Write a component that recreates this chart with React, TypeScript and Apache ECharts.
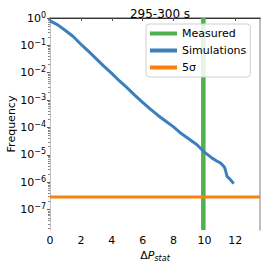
import React, { useEffect, useRef } from "react";
import * as echarts from "echarts";

const titleText = "295-300 s";
const xTicks = [0, 2, 4, 6, 8, 10, 12];
const yDecades = [-7, -6, -5, -4, -3, -2, -1, 0];
const xMax = 13.6;
const yMinFreq = 1.8e-8;
const yMaxFreq = 1;

const simX = [0, 0.5, 1, 1.5, 2, 2.5, 3, 3.5, 4, 4.5, 5, 5.5, 6, 6.5, 7, 7.5, 8, 8.5, 9, 9.5, 10, 10.5, 10.8, 11.05, 11.3, 11.36, 11.47, 11.6, 11.9];
const simFreq = [0.79, 0.56, 0.35, 0.21, 0.11, 0.06, 0.032, 0.017, 0.0095, 0.005, 0.0028, 0.0015, 8.3e-4, 4.7e-4, 2.75e-4, 1.7e-4, 1.05e-4, 6.0e-5, 3.8e-5, 2.4e-5, 1.26e-5, 7.6e-6, 6.0e-6, 5.0e-6, 3.5e-6, 2.8e-6, 1.6e-6, 1.4e-6, 8.9e-7];
const measuredX = 9.93;
const fiveSigma = 2.87e-7;

const FONT = "DejaVu Sans";

export default function App() {
  const ref = useRef<HTMLDivElement>(null);
  useEffect(() => {
    if (!ref.current) return;
    const chart = echarts.init(ref.current, undefined, { renderer: "svg" });
    const lg = (v: number) => Math.log10(v);
    const yMin = lg(yMinFreq);
    const yMax = lg(yMaxFreq);
    const minorVals: number[] = [];
    for (let n = -8; n <= 0; n++) {
      for (let k = 2; k <= 9; k++) {
        const v = n + Math.log10(k);
        if (v > yMin && v < yMax) minorVals.push(v);
      }
    }
    const supText = (n: number) => (n < 0 ? "\u2212" + Math.abs(n) : String(n));
    chart.setOption({
      animation: false,
      textStyle: { fontFamily: FONT },
      title: {
        text: titleText,
        left: 155,
        textAlign: "center",
        top: 3,
        textStyle: { fontFamily: FONT, fontSize: 12, fontWeight: "normal", color: "#000" },
      },
      legend: {
        orient: "vertical",
        left: 146,
        top: 24,
        padding: [3, 4, 3, 4],
        itemGap: 4,
        itemWidth: 27,
        itemHeight: 4,
        icon: "rect",
        borderColor: "#d0d0d0",
        borderWidth: 1,
        borderRadius: 3,
        backgroundColor: "rgba(255,255,255,0.85)",
        textStyle: { fontFamily: FONT, fontSize: 11, color: "#000", lineHeight: 13 },
        data: ["Measured", "Simulations", "5\u03c3"],
      },
      grid: { left: 50, top: 18, right: 6, bottom: 36, containLabel: false, outerBoundsMode: "none" },
      xAxis: [
        {
          type: "value",
          min: 0,
          max: xMax,
          interval: 2,
          position: "bottom",
          axisLine: { show: true, lineStyle: { color: "#a8a8a8", width: 2 } },
          axisTick: { show: true, length: 3, lineStyle: { color: "#555" }, customValues: xTicks },
          axisLabel: { fontFamily: FONT, fontSize: 11, color: "#000", margin: 5, customValues: xTicks },
          splitLine: { show: false },
          name: "{d|\u0394}{p|P}{s|stat}",
          nameLocation: "middle",
          nameGap: 18,
          nameMoveOverlap: false,
          nameTextStyle: {
            rich: {
              d: { fontFamily: FONT, fontSize: 11, color: "#000" },
              p: { fontFamily: FONT, fontSize: 11, color: "#000", fontStyle: "italic" },
              s: { fontFamily: FONT, fontSize: 8, color: "#000", fontStyle: "italic", padding: [6, 0, 0, 0] },
            },
          },
        },
        {
          type: "value",
          min: 0,
          max: xMax,
          position: "top",
          axisLine: { show: true, lineStyle: { color: "#333", width: 1 } },
          axisTick: { show: false },
          axisLabel: { show: false },
          splitLine: { show: false },
        },
      ],
      yAxis: [
        {
          type: "value",
          min: yMin,
          max: yMax,
          position: "left",
          axisLine: { show: true, lineStyle: { color: "#c0c0c0", width: 1 } },
          axisTick: { show: true, length: 3, lineStyle: { color: "#555" }, customValues: yDecades },
          axisLabel: {
            customValues: yDecades,
            margin: 4,
            formatter: (v: number) => `{b|10}{s|${supText(Math.round(v))}}`,
            rich: {
              b: { fontFamily: FONT, fontSize: 11, color: "#000", lineHeight: 14 },
              s: { fontFamily: FONT, fontSize: 8, color: "#000", verticalAlign: "top", lineHeight: 8 },
            },
          },
          splitLine: { show: false },
          name: "Frequency",
          nameLocation: "middle",
          nameGap: 33,
          nameMoveOverlap: false,
          nameTextStyle: { fontFamily: FONT, fontSize: 11, color: "#000" },
        },
        {
          type: "value",
          min: yMin,
          max: yMax,
          position: "left",
          axisLine: { show: false },
          axisTick: { show: true, length: 2, lineStyle: { color: "#888" }, customValues: minorVals },
          axisLabel: { show: false },
          splitLine: { show: false },
        },
        {
          type: "value",
          min: yMin,
          max: yMax,
          position: "right",
          axisLine: { show: true, lineStyle: { color: "#a8a8a8", width: 1.5 } },
          axisTick: { show: false },
          axisLabel: { show: false },
          splitLine: { show: false },
        },
      ],
      series: [
        {
          name: "Measured",
          type: "line",
          symbol: "none",
          color: "#4fb24f",
          lineStyle: { width: 4.5, color: "#4fb24f" },
          data: [
            [measuredX, yMin],
            [measuredX, yMax],
          ],
        },
        {
          name: "Simulations",
          type: "line",
          symbol: "none",
          color: "#3b7fbd",
          lineStyle: { width: 3, color: "#3b7fbd" },
          data: simX.map((x, i) => [x, lg(simFreq[i])]),
        },
        {
          name: "5\u03c3",
          type: "line",
          symbol: "none",
          color: "#ff7f0e",
          lineStyle: { width: 3, color: "#ff7f0e" },
          data: [
            [0, lg(fiveSigma)],
            [xMax, lg(fiveSigma)],
          ],
        },
      ],
    });
    return () => chart.dispose();
  }, []);
  return <div ref={ref} style={{ width: 266, height: 266, position: "absolute", left: 0, top: 0 }} />;
}
